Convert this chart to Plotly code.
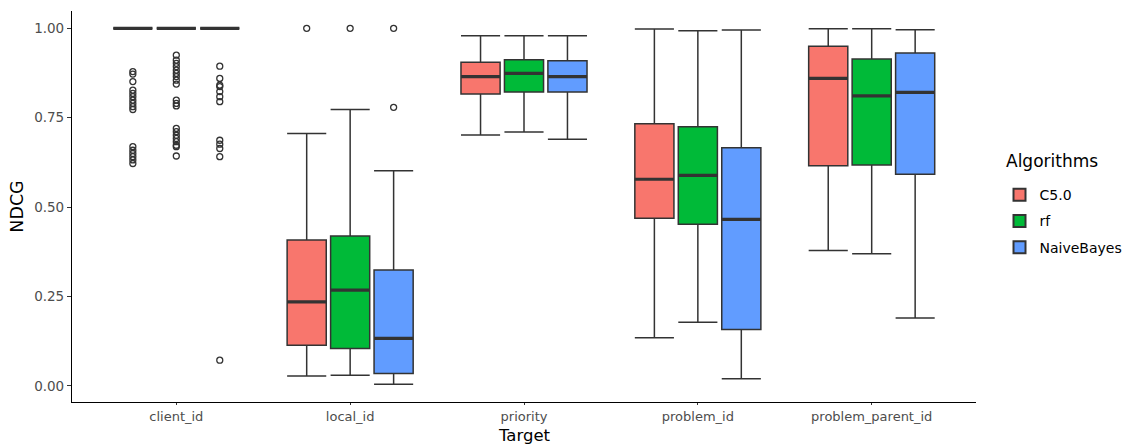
import plotly.graph_objects as go

targets = ["client_id", "local_id", "priority", "problem_id", "problem_parent_id"]
algorithms = ["C5.0", "rf", "NaiveBayes"]
colors = ["#F8766D", "#00BA38", "#619CFF"]

# per-algorithm stats, ordered as in `targets`
lower = {
    "C5.0":       [1.0, 0.028, 0.702, 0.135, 0.379],
    "rf":         [1.0, 0.030, 0.710, 0.178, 0.370],
    "NaiveBayes": [1.0, 0.005, 0.690, 0.020, 0.190],
}
q1 = {
    "C5.0":       [1.0, 0.114, 0.816, 0.469, 0.616],
    "rf":         [1.0, 0.105, 0.822, 0.452, 0.618],
    "NaiveBayes": [1.0, 0.035, 0.822, 0.158, 0.592],
}
median = {
    "C5.0":       [1.0, 0.235, 0.865, 0.578, 0.860],
    "rf":         [1.0, 0.268, 0.874, 0.589, 0.811],
    "NaiveBayes": [1.0, 0.133, 0.865, 0.466, 0.821],
}
q3 = {
    "C5.0":       [1.0, 0.408, 0.905, 0.733, 0.950],
    "rf":         [1.0, 0.419, 0.912, 0.725, 0.914],
    "NaiveBayes": [1.0, 0.324, 0.909, 0.666, 0.931],
}
upper = {
    "C5.0":       [1.0, 0.706, 0.979, 0.998, 0.999],
    "rf":         [1.0, 0.773, 0.979, 0.993, 0.999],
    "NaiveBayes": [1.0, 0.602, 0.979, 0.995, 0.996],
}
# outliers: (target, value)
outliers = {
    "C5.0": [("client_id", v) for v in [0.879, 0.872, 0.851, 0.827, 0.818, 0.809, 0.799, 0.790,
                                          0.781, 0.773, 0.669, 0.659, 0.650, 0.641, 0.632, 0.622]]
            + [("local_id", 1.0)],
    "rf": [("client_id", v) for v in [0.925, 0.911, 0.902, 0.893, 0.883, 0.874, 0.865, 0.855,
                                        0.844, 0.799, 0.790, 0.783, 0.720, 0.711, 0.701, 0.692,
                                        0.683, 0.673, 0.669, 0.643]]
          + [("local_id", 1.0)],
    "NaiveBayes": [("client_id", v) for v in [0.894, 0.860, 0.841, 0.837, 0.823, 0.809, 0.795,
                                                0.687, 0.676, 0.664, 0.641, 0.072]]
                  + [("local_id", 1.0), ("local_id", 0.779)],
}

dodge = 0.25
box_w = 0.225
line_col = "#333333"

fig = go.Figure()
for i, (alg, col) in enumerate(zip(algorithms, colors)):
    off = (i - 1) * dodge
    xs = [k + 1 + off for k in range(len(targets))]
    fig.add_trace(go.Box(
        name=alg, x=xs, q1=q1[alg], median=median[alg], q3=q3[alg],
        lowerfence=lower[alg], upperfence=upper[alg],
        width=box_w, whiskerwidth=1, fillcolor=col,
        line=dict(color=line_col, width=1.5), boxpoints=False,
        legendgroup=alg, showlegend=True,
    ))
    # thicker median segments (ggplot fatten)
    mx, my = [], []
    for x, m in zip(xs, median[alg]):
        mx += [x - box_w / 2, x + box_w / 2, None]
        my += [m, m, None]
    fig.add_trace(go.Scatter(x=mx, y=my, mode="lines",
                             line=dict(color=line_col, width=3.2),
                             legendgroup=alg, showlegend=False, hoverinfo="skip"))
    ox = [targets.index(t) + 1 + off for t, _ in outliers[alg]]
    oy = [v for _, v in outliers[alg]]
    fig.add_trace(go.Scatter(x=ox, y=oy, mode="markers",
                             marker=dict(symbol="circle-open", size=6,
                                         color=line_col, line=dict(width=1.3)),
                             legendgroup=alg, showlegend=False))

fig.add_annotation(text="Algorithms", xref="paper", yref="paper", x=1.031, y=0.616,
                   xanchor="left", yanchor="middle", showarrow=False,
                   font=dict(size=17, color="black"))
fig.add_annotation(text="Target", xref="paper", yref="paper", x=0.5, y=-0.0855,
                   xanchor="center", yanchor="middle", showarrow=False, borderpad=0,
                   font=dict(size=16.5, color="black"))

fig.update_layout(
    width=1127, height=444,
    margin=dict(l=72, r=151, t=11, b=42, autoexpand=False),
    plot_bgcolor="white", paper_bgcolor="white",
    font=dict(family="DejaVu Sans", color="black"),
    boxmode="overlay",
    legend=dict(font=dict(size=14), x=1.026, xanchor="left", y=0.57, yanchor="top",
                tracegroupgap=5, itemsizing="constant"),
    xaxis=dict(range=[0.4, 5.6], tickvals=list(range(1, len(targets) + 1)), ticktext=targets,
               showgrid=False, zeroline=False, showline=True, linecolor="black", linewidth=1.2,
               ticks="outside", ticklen=2, tickcolor="#333333",
               tickfont=dict(size=13, color="#4d4d4d")),
    yaxis=dict(range=[-0.0448, 1.0484], tickvals=[0, 0.25, 0.5, 0.75, 1.0],
               ticktext=["0.00", "0.25", "0.50", "0.75", "1.00"],
               showgrid=False, zeroline=False, showline=True, linecolor="black", linewidth=1.2,
               ticks="outside", ticklen=4, tickcolor="#333333",
               tickfont=dict(size=13.5, color="#4d4d4d"),
               title=dict(text="NDCG", font=dict(size=17.5), standoff=6)),
)

fig.write_html("out.html")
